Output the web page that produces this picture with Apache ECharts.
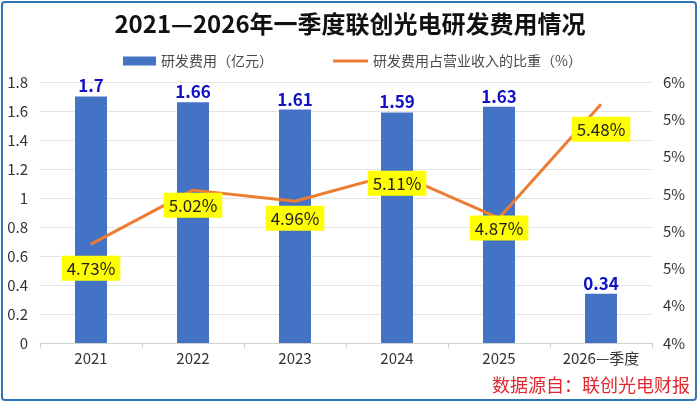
<!DOCTYPE html>
<html><head><meta charset="utf-8">
<script src="https://cdn.jsdelivr.net/npm/echarts@6/dist/echarts.min.js"></script>
<style>html,body{margin:0;padding:0;background:#fff}#c{width:700px;height:405px}</style>
</head><body><div id="c"></div>
<script>
const categories = ['2021','2022','2023','2024','2025','2026—季度'];
const rdExpense = [1.7, 1.66, 1.61, 1.59, 1.63, 0.34];
const rdRatio = [4.73, 5.02, 4.96, 5.11, 4.87, 5.48];
const barName = '研发费用（亿元）';
const lineName = '研发费用占营业收入的比重（%）';

// label vertical shifts (style only)
const ratioLabelShift = [24, 15, 17, 10, 10, 25];

const FONT = '"Noto Sans CJK SC","Noto Sans",sans-serif';
const chart = echarts.init(document.getElementById('c'));
chart.setOption({
  textStyle: { fontFamily: FONT },
  animation: false,
  title: {
    text: '2021—2026年一季度联创光电研发费用情况',
    left: 'center', top: 7,
    textStyle: { fontSize: 24, fontWeight: 'bold', color: '#111', fontFamily: FONT }
  },
  graphic: [
    { type: 'rect', shape: { x: 2, y: 2, width: 694, height: 398, r: 3 },
      style: { fill: 'none', stroke: '#2E75B6', lineWidth: 2 }, silent: true },
    { type: 'text', right: 10, bottom: 11,
      style: { text: '数据源自：联创光电财报', fill: '#E0282E', fontSize: 18, fontFamily: FONT } }
  ],
  legend: [
    { data: [{ name: barName, icon: 'rect' }], left: 118, top: 49, itemWidth: 33, itemHeight: 9, itemGap: 6,
      textStyle: { fontSize: 14, color: '#4a4a4a', fontFamily: FONT } },
    { data: [{ name: lineName, icon: 'rect' }], left: 328, top: 49, itemWidth: 35, itemHeight: 3, itemGap: 6,
      textStyle: { fontSize: 14, color: '#4a4a4a', fontFamily: FONT } }
  ],
  grid: { left: 40, right: 48, top: 82, bottom: 62, containLabel: false },
  xAxis: {
    type: 'category', data: categories,
    axisLine: { lineStyle: { color: '#D0D0D0' } },
    axisTick: { show: true, length: 5, lineStyle: { color: '#D0D0D0' } },
    axisLabel: { fontSize: 15, color: '#333', margin: 8, fontFamily: FONT }
  },
  yAxis: [
    { type: 'value', min: 0, max: 1.8, interval: 0.2,
      axisLine: { show: false }, axisTick: { show: false },
      splitLine: { lineStyle: { color: '#E4E4E4' } },
      axisLabel: { fontSize: 15, color: '#333', margin: 12, fontFamily: FONT,
        formatter: v => String(Math.round(v * 10) / 10) } },
    { type: 'value', min: 4.2, max: 5.6, interval: 0.2,
      axisLine: { show: false }, axisTick: { show: false }, splitLine: { show: false },
      axisLabel: { fontSize: 15, color: '#333', margin: 11, fontFamily: FONT,
        formatter: v => Math.round(v) + '%' } }
  ],
  series: [
    { name: barName, type: 'bar', data: rdExpense, barWidth: 32, yAxisIndex: 0,
      itemStyle: { color: '#4472C4' },
      label: { show: true, position: 'top', distance: 2, color: '#0F0FC8', fontSize: 17, fontWeight: 'bold', fontFamily: FONT } },
    { name: lineName, type: 'line', data: rdRatio, yAxisIndex: 1, z: 5,
      showSymbol: true, symbol: 'circle', symbolSize: 1,
      lineStyle: { color: '#ED7D31', width: 3 }, itemStyle: { color: '#ED7D31' },
      labelLayout: p => ({ dy: ratioLabelShift[p.dataIndex], hideOverlap: false }),
      label: { show: true, position: 'inside', formatter: p => p.value.toFixed(2) + '%',
        backgroundColor: '#FFFF00', color: '#222', fontSize: 17, padding: [4, 5], fontFamily: FONT } }
  ]
});
</script></body></html>
